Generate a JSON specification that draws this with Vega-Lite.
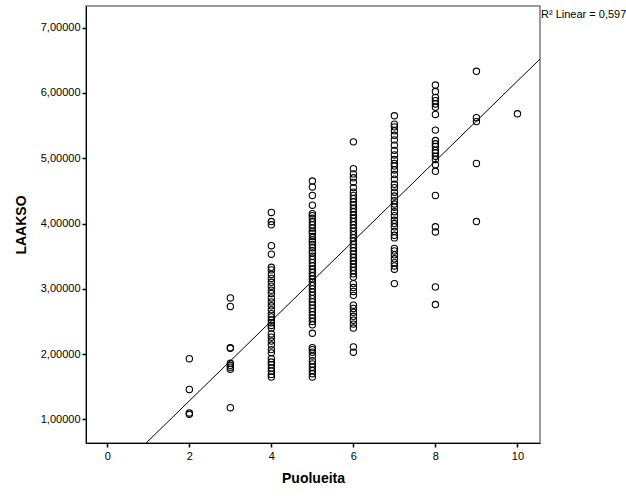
{
  "$schema": "https://vega.github.io/schema/vega-lite/v6.json",
  "width": 454,
  "height": 437,
  "autosize": {"type": "none"},
  "padding": {"left": 86, "top": 6, "right": 86, "bottom": 58},
  "background": "white",
  "config": {
    "font": "Liberation Sans",
    "view": {"stroke": "#7a7a7a", "strokeWidth": 1.5},
    "axis": {
      "grid": false,
      "domainColor": "black",
      "tickColor": "black",
      "labelColor": "black",
      "titleColor": "black",
      "labelFontSize": 11,
      "titleFontSize": 14,
      "titleFontWeight": "bold",
      "tickSize": 4,
      "tickWidth": 1.5,
      "labelFont": "Liberation Sans",
      "titleFont": "Liberation Sans"
    }
  },
  "datasets": {
    "pts": [
      {"Puolueita": 2, "LAAKSO": 1.93}, {"Puolueita": 2, "LAAKSO": 1.46}, {"Puolueita": 2, "LAAKSO": 1.10}, {"Puolueita": 2, "LAAKSO": 1.08},
      {"Puolueita": 3, "LAAKSO": 2.86}, {"Puolueita": 3, "LAAKSO": 2.73}, {"Puolueita": 3, "LAAKSO": 2.10}, {"Puolueita": 3, "LAAKSO": 2.09},
      {"Puolueita": 3, "LAAKSO": 1.86}, {"Puolueita": 3, "LAAKSO": 1.83}, {"Puolueita": 3, "LAAKSO": 1.80}, {"Puolueita": 3, "LAAKSO": 1.77},
      {"Puolueita": 3, "LAAKSO": 1.18},
      {"Puolueita": 4, "LAAKSO": 4.17}, {"Puolueita": 4, "LAAKSO": 4.03}, {"Puolueita": 4, "LAAKSO": 3.98}, {"Puolueita": 4, "LAAKSO": 3.66},
      {"Puolueita": 4, "LAAKSO": 3.53}, {"Puolueita": 4, "LAAKSO": 3.33}, {"Puolueita": 4, "LAAKSO": 3.29}, {"Puolueita": 4, "LAAKSO": 3.22},
      {"Puolueita": 4, "LAAKSO": 3.16}, {"Puolueita": 4, "LAAKSO": 3.10}, {"Puolueita": 4, "LAAKSO": 3.04}, {"Puolueita": 4, "LAAKSO": 2.98},
      {"Puolueita": 4, "LAAKSO": 2.93}, {"Puolueita": 4, "LAAKSO": 2.86}, {"Puolueita": 4, "LAAKSO": 2.80}, {"Puolueita": 4, "LAAKSO": 2.74},
      {"Puolueita": 4, "LAAKSO": 2.68}, {"Puolueita": 4, "LAAKSO": 2.62}, {"Puolueita": 4, "LAAKSO": 2.57}, {"Puolueita": 4, "LAAKSO": 2.52},
      {"Puolueita": 4, "LAAKSO": 2.48}, {"Puolueita": 4, "LAAKSO": 2.44}, {"Puolueita": 4, "LAAKSO": 2.40}, {"Puolueita": 4, "LAAKSO": 2.31},
      {"Puolueita": 4, "LAAKSO": 2.26}, {"Puolueita": 4, "LAAKSO": 2.20}, {"Puolueita": 4, "LAAKSO": 2.14}, {"Puolueita": 4, "LAAKSO": 2.07},
      {"Puolueita": 4, "LAAKSO": 2.02}, {"Puolueita": 4, "LAAKSO": 1.93}, {"Puolueita": 4, "LAAKSO": 1.88}, {"Puolueita": 4, "LAAKSO": 1.84},
      {"Puolueita": 4, "LAAKSO": 1.79}, {"Puolueita": 4, "LAAKSO": 1.74}, {"Puolueita": 4, "LAAKSO": 1.69}, {"Puolueita": 4, "LAAKSO": 1.65},
      {"Puolueita": 5, "LAAKSO": 4.65}, {"Puolueita": 5, "LAAKSO": 4.56}, {"Puolueita": 5, "LAAKSO": 4.43}, {"Puolueita": 5, "LAAKSO": 4.28},
      {"Puolueita": 5, "LAAKSO": 4.15}, {"Puolueita": 5, "LAAKSO": 4.12}, {"Puolueita": 5, "LAAKSO": 4.08}, {"Puolueita": 5, "LAAKSO": 4.03},
      {"Puolueita": 5, "LAAKSO": 3.98}, {"Puolueita": 5, "LAAKSO": 3.93}, {"Puolueita": 5, "LAAKSO": 3.88}, {"Puolueita": 5, "LAAKSO": 3.85},
      {"Puolueita": 5, "LAAKSO": 3.80}, {"Puolueita": 5, "LAAKSO": 3.75}, {"Puolueita": 5, "LAAKSO": 3.72}, {"Puolueita": 5, "LAAKSO": 3.68},
      {"Puolueita": 5, "LAAKSO": 3.63}, {"Puolueita": 5, "LAAKSO": 3.58}, {"Puolueita": 5, "LAAKSO": 3.55}, {"Puolueita": 5, "LAAKSO": 3.50},
      {"Puolueita": 5, "LAAKSO": 3.45}, {"Puolueita": 5, "LAAKSO": 3.40}, {"Puolueita": 5, "LAAKSO": 3.35}, {"Puolueita": 5, "LAAKSO": 3.30},
      {"Puolueita": 5, "LAAKSO": 3.25}, {"Puolueita": 5, "LAAKSO": 3.20}, {"Puolueita": 5, "LAAKSO": 3.15}, {"Puolueita": 5, "LAAKSO": 3.10},
      {"Puolueita": 5, "LAAKSO": 3.05}, {"Puolueita": 5, "LAAKSO": 3.00}, {"Puolueita": 5, "LAAKSO": 2.95}, {"Puolueita": 5, "LAAKSO": 2.90},
      {"Puolueita": 5, "LAAKSO": 2.85}, {"Puolueita": 5, "LAAKSO": 2.80}, {"Puolueita": 5, "LAAKSO": 2.75}, {"Puolueita": 5, "LAAKSO": 2.70},
      {"Puolueita": 5, "LAAKSO": 2.65}, {"Puolueita": 5, "LAAKSO": 2.60}, {"Puolueita": 5, "LAAKSO": 2.55}, {"Puolueita": 5, "LAAKSO": 2.50},
      {"Puolueita": 5, "LAAKSO": 2.45}, {"Puolueita": 5, "LAAKSO": 2.32}, {"Puolueita": 5, "LAAKSO": 2.10}, {"Puolueita": 5, "LAAKSO": 2.07},
      {"Puolueita": 5, "LAAKSO": 2.03}, {"Puolueita": 5, "LAAKSO": 1.97}, {"Puolueita": 5, "LAAKSO": 1.90}, {"Puolueita": 5, "LAAKSO": 1.85},
      {"Puolueita": 5, "LAAKSO": 1.80}, {"Puolueita": 5, "LAAKSO": 1.75}, {"Puolueita": 5, "LAAKSO": 1.70}, {"Puolueita": 5, "LAAKSO": 1.65},
      {"Puolueita": 6, "LAAKSO": 5.25}, {"Puolueita": 6, "LAAKSO": 4.84}, {"Puolueita": 6, "LAAKSO": 4.76}, {"Puolueita": 6, "LAAKSO": 4.70},
      {"Puolueita": 6, "LAAKSO": 4.63}, {"Puolueita": 6, "LAAKSO": 4.55}, {"Puolueita": 6, "LAAKSO": 4.48}, {"Puolueita": 6, "LAAKSO": 4.43},
      {"Puolueita": 6, "LAAKSO": 4.38}, {"Puolueita": 6, "LAAKSO": 4.33}, {"Puolueita": 6, "LAAKSO": 4.28}, {"Puolueita": 6, "LAAKSO": 4.23},
      {"Puolueita": 6, "LAAKSO": 4.18}, {"Puolueita": 6, "LAAKSO": 4.13}, {"Puolueita": 6, "LAAKSO": 4.08}, {"Puolueita": 6, "LAAKSO": 4.03},
      {"Puolueita": 6, "LAAKSO": 3.98}, {"Puolueita": 6, "LAAKSO": 3.93}, {"Puolueita": 6, "LAAKSO": 3.88}, {"Puolueita": 6, "LAAKSO": 3.83},
      {"Puolueita": 6, "LAAKSO": 3.78}, {"Puolueita": 6, "LAAKSO": 3.73}, {"Puolueita": 6, "LAAKSO": 3.68}, {"Puolueita": 6, "LAAKSO": 3.63},
      {"Puolueita": 6, "LAAKSO": 3.58}, {"Puolueita": 6, "LAAKSO": 3.53}, {"Puolueita": 6, "LAAKSO": 3.48}, {"Puolueita": 6, "LAAKSO": 3.43},
      {"Puolueita": 6, "LAAKSO": 3.38}, {"Puolueita": 6, "LAAKSO": 3.33}, {"Puolueita": 6, "LAAKSO": 3.28}, {"Puolueita": 6, "LAAKSO": 3.23},
      {"Puolueita": 6, "LAAKSO": 3.18}, {"Puolueita": 6, "LAAKSO": 3.08}, {"Puolueita": 6, "LAAKSO": 3.02}, {"Puolueita": 6, "LAAKSO": 2.96},
      {"Puolueita": 6, "LAAKSO": 2.90}, {"Puolueita": 6, "LAAKSO": 2.75}, {"Puolueita": 6, "LAAKSO": 2.70}, {"Puolueita": 6, "LAAKSO": 2.64},
      {"Puolueita": 6, "LAAKSO": 2.58}, {"Puolueita": 6, "LAAKSO": 2.52}, {"Puolueita": 6, "LAAKSO": 2.46}, {"Puolueita": 6, "LAAKSO": 2.40},
      {"Puolueita": 6, "LAAKSO": 2.11}, {"Puolueita": 6, "LAAKSO": 2.03},
      {"Puolueita": 7, "LAAKSO": 5.65}, {"Puolueita": 7, "LAAKSO": 5.52}, {"Puolueita": 7, "LAAKSO": 5.48}, {"Puolueita": 7, "LAAKSO": 5.42},
      {"Puolueita": 7, "LAAKSO": 5.35}, {"Puolueita": 7, "LAAKSO": 5.28}, {"Puolueita": 7, "LAAKSO": 5.20}, {"Puolueita": 7, "LAAKSO": 5.12},
      {"Puolueita": 7, "LAAKSO": 5.05}, {"Puolueita": 7, "LAAKSO": 4.98}, {"Puolueita": 7, "LAAKSO": 4.92}, {"Puolueita": 7, "LAAKSO": 4.88},
      {"Puolueita": 7, "LAAKSO": 4.82}, {"Puolueita": 7, "LAAKSO": 4.75}, {"Puolueita": 7, "LAAKSO": 4.68}, {"Puolueita": 7, "LAAKSO": 4.60},
      {"Puolueita": 7, "LAAKSO": 4.55}, {"Puolueita": 7, "LAAKSO": 4.48}, {"Puolueita": 7, "LAAKSO": 4.42}, {"Puolueita": 7, "LAAKSO": 4.35},
      {"Puolueita": 7, "LAAKSO": 4.30}, {"Puolueita": 7, "LAAKSO": 4.25}, {"Puolueita": 7, "LAAKSO": 4.18}, {"Puolueita": 7, "LAAKSO": 4.12},
      {"Puolueita": 7, "LAAKSO": 4.05}, {"Puolueita": 7, "LAAKSO": 4.00}, {"Puolueita": 7, "LAAKSO": 3.95}, {"Puolueita": 7, "LAAKSO": 3.88},
      {"Puolueita": 7, "LAAKSO": 3.82}, {"Puolueita": 7, "LAAKSO": 3.78}, {"Puolueita": 7, "LAAKSO": 3.62}, {"Puolueita": 7, "LAAKSO": 3.58},
      {"Puolueita": 7, "LAAKSO": 3.52}, {"Puolueita": 7, "LAAKSO": 3.46}, {"Puolueita": 7, "LAAKSO": 3.40}, {"Puolueita": 7, "LAAKSO": 3.35},
      {"Puolueita": 7, "LAAKSO": 3.30}, {"Puolueita": 7, "LAAKSO": 3.08},
      {"Puolueita": 8, "LAAKSO": 6.12}, {"Puolueita": 8, "LAAKSO": 6.02}, {"Puolueita": 8, "LAAKSO": 5.93}, {"Puolueita": 8, "LAAKSO": 5.88},
      {"Puolueita": 8, "LAAKSO": 5.83}, {"Puolueita": 8, "LAAKSO": 5.78}, {"Puolueita": 8, "LAAKSO": 5.67}, {"Puolueita": 8, "LAAKSO": 5.43},
      {"Puolueita": 8, "LAAKSO": 5.27}, {"Puolueita": 8, "LAAKSO": 5.22}, {"Puolueita": 8, "LAAKSO": 5.18}, {"Puolueita": 8, "LAAKSO": 5.12},
      {"Puolueita": 8, "LAAKSO": 5.08}, {"Puolueita": 8, "LAAKSO": 5.03}, {"Puolueita": 8, "LAAKSO": 4.98}, {"Puolueita": 8, "LAAKSO": 4.90},
      {"Puolueita": 8, "LAAKSO": 4.80}, {"Puolueita": 8, "LAAKSO": 4.43}, {"Puolueita": 8, "LAAKSO": 3.95}, {"Puolueita": 8, "LAAKSO": 3.87},
      {"Puolueita": 8, "LAAKSO": 3.03}, {"Puolueita": 8, "LAAKSO": 2.76},
      {"Puolueita": 9, "LAAKSO": 6.33}, {"Puolueita": 9, "LAAKSO": 5.62}, {"Puolueita": 9, "LAAKSO": 5.56}, {"Puolueita": 9, "LAAKSO": 4.92},
      {"Puolueita": 9, "LAAKSO": 4.03},
      {"Puolueita": 10, "LAAKSO": 5.68}
    ],
    "fit": [
      {"Puolueita": 0, "LAAKSO": 0.061},
      {"Puolueita": 11, "LAAKSO": 6.793}
    ],
    "note": [
      {"Puolueita": 10.55, "LAAKSO": 7.33, "label": "R² Linear = 0,597"}
    ]
  },
  "layer": [
    {
      "data": {"name": "pts"},
      "mark": {"type": "point", "shape": "circle", "filled": false, "size": 40, "stroke": "black", "strokeWidth": 1.1, "opacity": 1},
      "encoding": {
        "x": {
          "field": "Puolueita", "type": "quantitative",
          "scale": {"domain": [-0.52, 10.55], "nice": false, "zero": false},
          "axis": {"values": [0, 2, 4, 6, 8, 10], "title": "Puolueita", "titlePadding": 10, "labelPadding": 3}
        },
        "y": {
          "field": "LAAKSO", "type": "quantitative",
          "scale": {"domain": [0.64, 7.33], "nice": false, "zero": false},
          "axis": {
            "values": [1, 2, 3, 4, 5, 6, 7],
            "title": "LAAKSO",
            "titlePadding": 12,
            "labelPadding": 2,
            "labelExpr": "replace(format(datum.value, '.5f'), '.', ',')"
          }
        }
      }
    },
    {
      "data": {"name": "fit"},
      "mark": {"type": "line", "color": "black", "strokeWidth": 1, "clip": true},
      "encoding": {
        "x": {"field": "Puolueita", "type": "quantitative"},
        "y": {"field": "LAAKSO", "type": "quantitative"}
      }
    },
    {
      "data": {"name": "note"},
      "mark": {"type": "text", "align": "left", "baseline": "top", "dx": 1, "dy": 3, "fontSize": 11, "color": "black", "font": "Liberation Sans"},
      "encoding": {
        "x": {"field": "Puolueita", "type": "quantitative"},
        "y": {"field": "LAAKSO", "type": "quantitative"},
        "text": {"field": "label"}
      }
    }
  ]
}
